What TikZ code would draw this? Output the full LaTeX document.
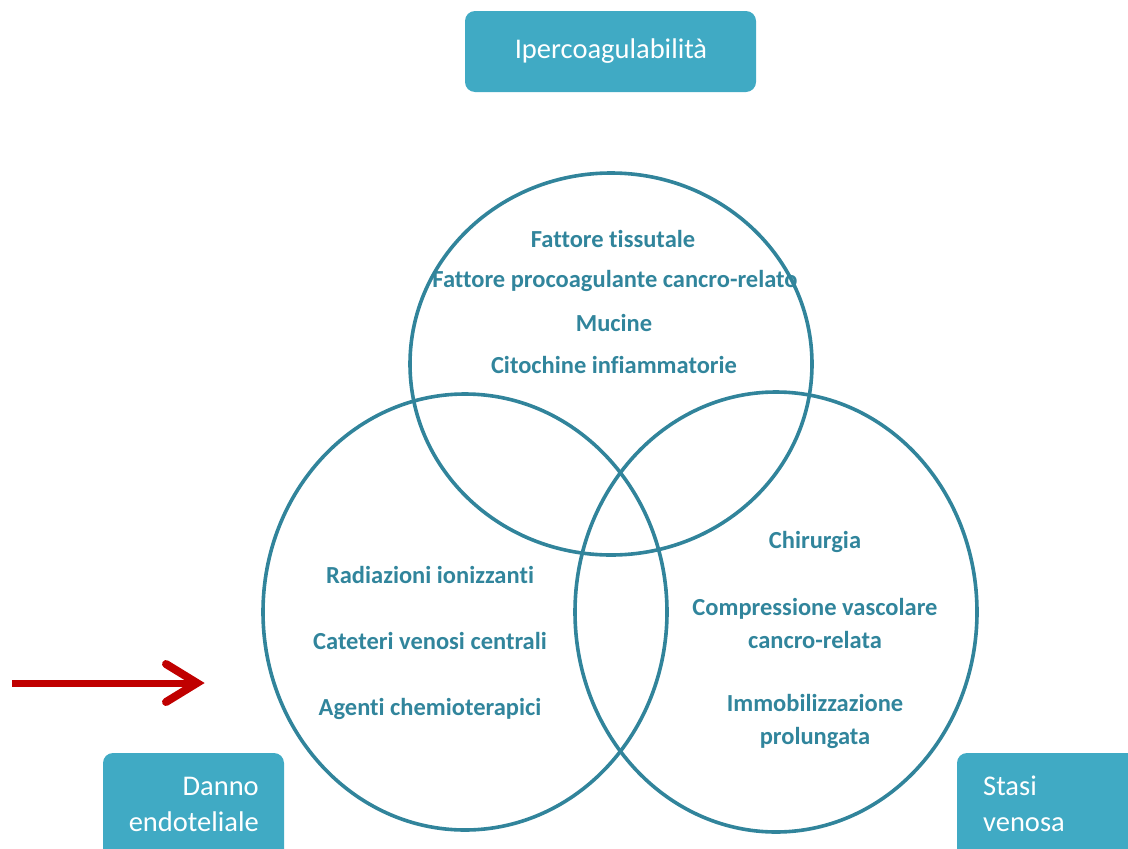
\documentclass[tikz,border=0pt]{standalone}
\usepackage{fontspec}
\setmainfont{Carlito}[Ligatures=NoCommon]
\definecolor{ring}{RGB}{49,132,155}
\definecolor{txt}{RGB}{49,133,156}
\definecolor{boxfill}{RGB}{64,170,196}
\definecolor{arrowred}{RGB}{192,0,0}
\begin{document}
\begin{tikzpicture}[x=1pt,y=-1pt,
  ring/.style={draw=ring,line width=3.6pt},
  item/.style={text=txt,font=\fontsize{24.5}{33}\selectfont\bfseries,align=center,inner sep=0pt},
  boxtext/.style={text=white,font=\fontsize{28.5}{36}\selectfont,inner sep=0pt},
  labelbox/.style={fill=boxfill,rounded corners=10pt}]
\useasboundingbox (0,0) rectangle (1128,849);
% circles
\draw[ring] (611,364) ellipse [x radius=201, y radius=191];
\draw[ring] (465,612) ellipse [x radius=202, y radius=218];
\draw[ring] (776,612) ellipse [x radius=201, y radius=220];
% top texts
\node[item] (t1) at (613,239) {Fattore tissutale};
\node[item] (t2) at (615,281) {Fattore procoagulante cancro-relato};
\node[item] (t3) at (614,323) {Mucine};
\node[item] (t4) at (614,365) {Citochine infiammatorie};
% left texts
\node[item] (l1) at (430,575) {Radiazioni ionizzanti};
\node[item] (l2) at (430,641) {Cateteri venosi centrali};
\node[item] (l3) at (430,709) {Agenti chemioterapici};
% right texts
\node[item] (r1) at (815,542) {Chirurgia};
\node[item] (r2) at (815,623) {Compressione vascolare\\cancro-relata};
\node[item] (r3) at (815,721) {Immobilizzazione\\prolungata};
% boxes
\fill[labelbox] (465,11) rectangle (756,92);
\node[boxtext] (top) at (611,51) {Ipercoagulabilità};
\fill[labelbox] (103,753) rectangle (284,860);
\node[boxtext,align=right,anchor=east] (bl) at (259,804) {Danno\\endoteliale};
\fill[labelbox] (957,753) rectangle (1140,860);
\node[boxtext,align=left,anchor=west] (br) at (983,804) {Stasi\\venosa};
% arrow
\coordinate (as) at (12,683);
\coordinate (ae) at (194,683);
\coordinate (tip) at (197,683);
\draw[arrowred,line width=7pt] (as) -- (ae);
\draw[arrowred,line width=8pt,line cap=round,line join=miter] (166,664) -- (tip) -- (166,702);
\end{tikzpicture}
\end{document}
